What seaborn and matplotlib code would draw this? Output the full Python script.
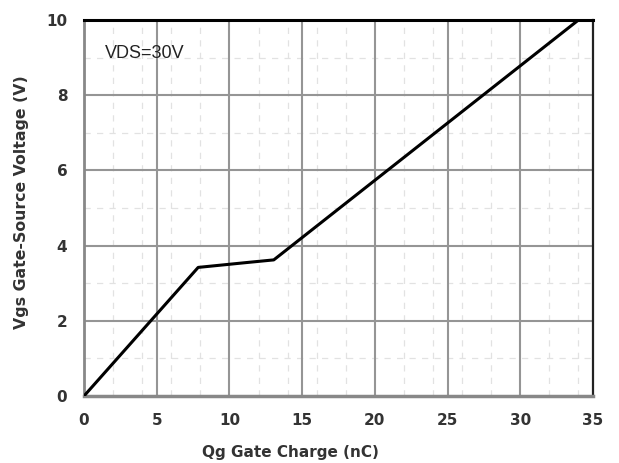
import matplotlib
matplotlib.use("Agg")
import matplotlib.pyplot as plt
import seaborn as sns
import pandas as pd
import numpy as np

qg = [0.0, 7.85, 11.2, 13.05, 34.0]
vgs = [0.0, 3.42, 3.55, 3.62, 10.0]
x_ticks = [0, 5, 10, 15, 20, 25, 30, 35]
y_ticks = [0, 2, 4, 6, 8, 10]
x_minor = [2, 4, 6, 8, 12, 14, 16, 18, 22, 24, 26, 28, 32, 34]
y_minor = [1, 3, 5, 7, 9]

sns.set_style("white")
plt.rcParams['font.family'] = ['DejaVu Sans']

df = pd.DataFrame({"Qg": qg, "Vgs": vgs})

fig = plt.figure(figsize=(6.19, 4.63), dpi=100)
ax = fig.add_axes([84/619, 1-396/463, (593-84)/619, (396-20)/463])

for xm in x_minor:
    ax.axvline(xm, color="#e2e2e2", lw=0.9, ls=(0, (5, 5)), zorder=0)
for ym in y_minor:
    ax.axhline(ym, color="#e2e2e2", lw=0.9, ls=(0, (5, 5)), zorder=0)
for xt in x_ticks[1:-1]:
    ax.axvline(xt, color="#959595", lw=1.5, zorder=1)
for yt in y_ticks[1:-1]:
    ax.axhline(yt, color="#959595", lw=1.5, zorder=1)

sns.lineplot(data=df, x="Qg", y="Vgs", ax=ax, color="black", lw=2.2, zorder=3)

ax.set_xlim(0, 35)
ax.set_ylim(0, 10)
ax.set_xticks(x_ticks)
ax.set_yticks(y_ticks)
ax.set_xticklabels([str(v) for v in x_ticks], fontweight="bold", fontsize=11, color="#333333")
ax.set_yticklabels([str(v) for v in y_ticks], fontweight="bold", fontsize=11, color="#333333")
ax.tick_params(axis="x", length=0, pad=12)
ax.tick_params(axis="y", length=0, pad=12)

ax.set_xlabel("Qg Gate Charge (nC)", fontweight="bold", fontsize=11, color="#333333")
ax.set_ylabel("Vgs Gate-Source Voltage (V)", fontweight="bold", fontsize=11.3, color="#333333")
ax.xaxis.set_label_coords((290-84)/(593-84), -(452-396)/(396-20))
ax.xaxis.label.set_va("center")
ax.yaxis.set_label_coords(-(84-22)/(593-84), (396-202)/(396-20))
ax.yaxis.label.set_va("center")

ax.text(1.44, 9.11, "VDS=30V", fontsize=13, color="#222222", va="center", ha="left",
        family="Liberation Sans")

for side, col, lw in [("top", "black", 2.2), ("right", "#222222", 1.6), ("left", "#888888", 2.0), ("bottom", "#888888", 2.5)]:
    ax.spines[side].set_visible(True)
    ax.spines[side].set_color(col)
    ax.spines[side].set_linewidth(lw)

fig.savefig("out.png", dpi=100)
